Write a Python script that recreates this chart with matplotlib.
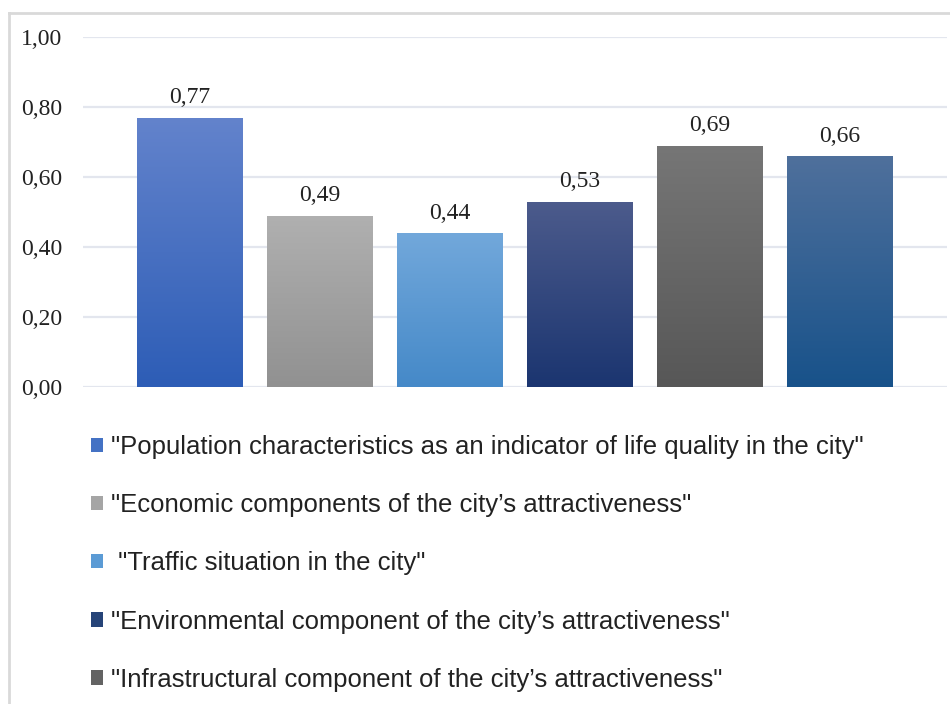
import numpy as np
import matplotlib
matplotlib.use("Agg")
import matplotlib.pyplot as plt
from matplotlib.lines import Line2D

# ---- data ----
labels = [
    '"Population characteristics as an indicator of life quality in the city"',
    '"Economic components of the city\u2019s attractiveness"',
    ' "Traffic situation in the city"',
    '"Environmental component of the city\u2019s attractiveness"',
    '"Infrastructural component of the city\u2019s attractiveness"',
    '"Social component of the city\u2019s attractiveness"',
]
values = [0.77, 0.49, 0.44, 0.53, 0.69, 0.66]
yticks = [0.0, 0.2, 0.4, 0.6, 0.8, 1.0]

# gradient colours (top, bottom) and legend/mid colour
top_colors = ["#6383cc", "#b0b0b0", "#72a8db", "#4c5b8c", "#767676", "#4f709c"]
bot_colors = ["#2d5db6", "#919191", "#4589c8", "#1b3570", "#575757", "#18528a"]
mid_colors = ["#4472c4", "#a5a5a5", "#5b9bd5", "#264478", "#636363", "#255e91"]

fig = plt.figure(figsize=(9.5, 7.04), dpi=100)
W, H = 950, 704
ax = fig.add_axes([83 / W, (H - 387) / H, (947 - 83) / W, (387 - 37) / H])

n = len(values)
spacing = 130 / 864
width = 106 / 864
xs = [(i - (n - 1) / 2) * spacing for i in range(n)]
bars = ax.bar(xs, values, width=width, color=mid_colors, zorder=2,
              edgecolor="none")

def hex2rgb(h):
    h = h.lstrip("#")
    return np.array([int(h[i:i + 2], 16) / 255 for i in (0, 2, 4)])

for bar, ct, cb in zip(bars, top_colors, bot_colors):
    x0, y0 = bar.get_x(), bar.get_y()
    w, h = bar.get_width(), bar.get_height()
    t = np.linspace(0, 1, 256)[:, None, None]
    arr = hex2rgb(cb)[None, None, :] * (1 - t) + hex2rgb(ct)[None, None, :] * t
    arr = np.repeat(arr, 2, axis=1)
    im = ax.imshow(arr, extent=[x0, x0 + w, y0, y0 + h], origin="lower",
                   aspect="auto", zorder=2.5, interpolation="bilinear")
    im.set_clip_path(bar)

ax.set_xlim(-0.5, 0.5)
ax.set_ylim(0, 1.0)
ax.set_yticks(yticks)
ax.set_yticklabels([f"{v:.2f}".replace(".", ",") for v in yticks],
                   fontfamily="Liberation Serif", fontsize=17)
ax.tick_params(axis="y", length=0, pad=15, colors="#222222")
ax.set_xticks([])
ax.grid(axis="y", color="#e3e6ee", linewidth=1.6)
ax.set_axisbelow(True)
for s in ax.spines.values():
    s.set_visible(False)

ax.bar_label(bars, labels=[f"{v:.2f}".replace(".", ",") for v in values],
             padding=6.5, fontfamily="Liberation Serif", fontsize=17,
             color="#222222", zorder=5)

# legend (the sixth entry is cut off in the reference)
leg = fig.legend(list(bars)[:5], labels[:5], loc="upper left",
                 bbox_to_anchor=(91 / W, (H - 435) / H), frameon=False,
                 prop={"family": "Liberation Sans", "size": 18.5},
                 handlelength=0.48, handleheight=0.48, handletextpad=0.3,
                 labelspacing=1.33, borderpad=0, borderaxespad=0)
for t in leg.get_texts():
    t.set_color("#222222")

# outer frame (top and left sides visible)
fig.add_artist(Line2D([9 / W, 1.0], [(H - 13) / H] * 2, color="#d9d9d9",
                      lw=2, transform=fig.transFigure))
fig.add_artist(Line2D([9 / W] * 2, [(H - 13) / H, 0.0], color="#d9d9d9",
                      lw=2, transform=fig.transFigure))

fig.savefig("out.png", dpi=100, facecolor="white")
